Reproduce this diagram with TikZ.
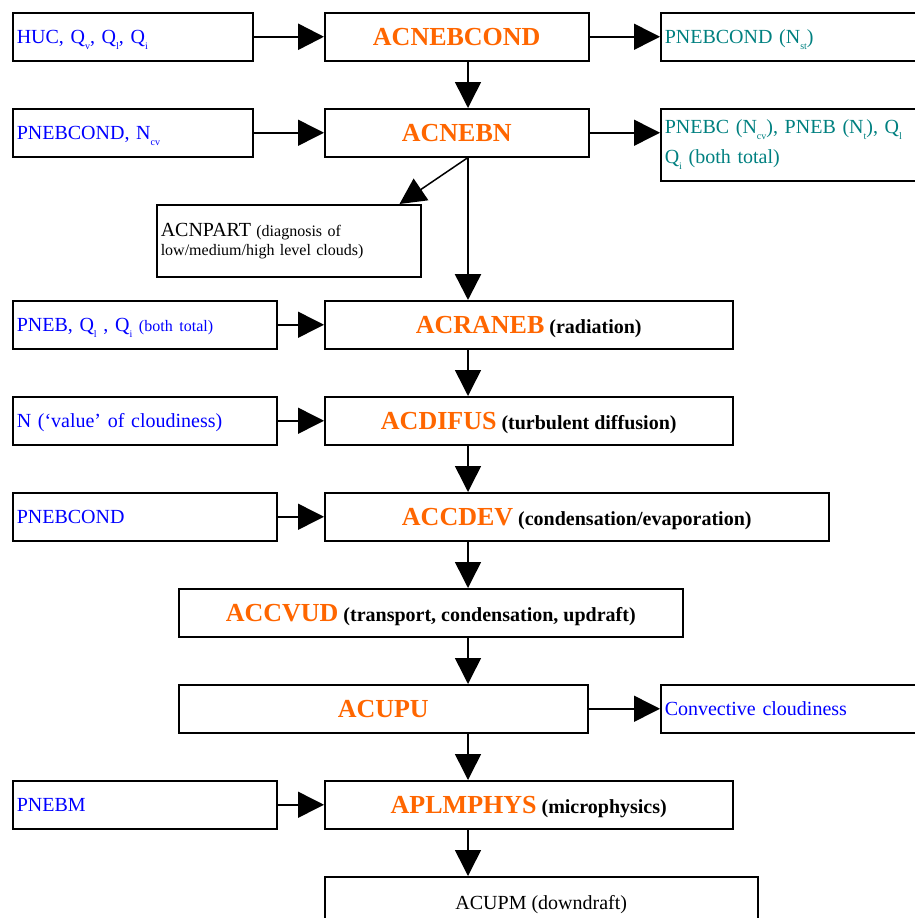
\documentclass[tikz,border=0pt]{standalone}
\usepackage{fontspec}
\setmainfont{Liberation Serif}
\usetikzlibrary{arrows.meta}
\definecolor{routineorange}{RGB}{255,102,0}
\definecolor{inblue}{RGB}{0,0,255}
\definecolor{outteal}{RGB}{0,128,128}
\newcommand{\lowsub}[1]{\raisebox{-6pt}{\fontsize{10}{10}\selectfont #1}}
\newcommand{\rname}[1]{{\color{routineorange}\fontsize{26}{30}\selectfont #1}}
\begin{document}
\begin{tikzpicture}[
x=1pt, y=-1pt,
box/.style={rectangle, draw=black, line width=1.5pt, anchor=north west, inner sep=4pt, align=left, font=\fontsize{20}{24}\selectfont},
input/.style={box, minimum height=48pt, text=inblue, text height=15pt, text depth=1pt},
output/.style={input, text=outteal},
routine/.style={box, minimum height=48pt, inner sep=0pt, align=center, font=\bfseries\fontsize{20}{24}\selectfont, text height=19pt, text depth=1pt},
note/.style={box, minimum height=72pt, font=\fontsize{16}{19}\selectfont},
flow/.style={-{Triangle[length=26pt, width=26pt]}, line width=1.5pt},
mainflow/.style={flow, line width=2.5pt},
]
\useasboundingbox (0,0) rectangle (914,918);
\coordinate (spine) at (468,0);
% first row
\node (huc) [input, text width=232pt] at (12,12) {HUC, Q\lowsub{v}, Q\lowsub{l}, Q\lowsub{i}};
\node (acnebcond) [routine, minimum width=264pt] at (324,12) {\rname{ACNEBCOND}};
\node (stout) [output, text width=332pt] at (660,12) {PNEBCOND (N\lowsub{st})};
% second row
\node (ncv) [input, text width=232pt] at (12,108) {PNEBCOND, N\lowsub{cv}};
\node (acnebn) [routine, minimum width=264pt] at (324,108) {\rname{ACNEBN}};
\node (totout) [box, minimum height=72pt, text=outteal, text width=332pt, font=\fontsize{20}{30}\selectfont] at (660,108)
	{PNEBC (N\lowsub{cv}), PNEB (N\lowsub{t}), Q\lowsub{l}\\ Q\lowsub{i} (both total)};
\node (acnpart) [note, text width=256pt] at (156,204)
	{{\fontsize{20}{24}\selectfont ACNPART} (diagnosis of\\ low/medium/high level clouds)};
% main chain
\node (pneb) [input, text width=256pt] at (12,300) {PNEB, Q\lowsub{l} , Q\lowsub{i} {\fontsize{16}{19}\selectfont (both total)}};
\node (acraneb) [routine, minimum width=408pt] at (324,300) {\rname{ACRANEB} (radiation)};
\node (nval) [input, text width=256pt] at (12,396) {N (`value' of cloudiness)};
\node (acdifus) [routine, minimum width=408pt] at (324,396) {\rname{ACDIFUS} (turbulent diffusion)};
\node (pnebcond) [input, text width=256pt] at (12,492) {PNEBCOND};
\node (accdev) [routine, minimum width=504pt] at (324,492) {\rname{ACCDEV} (condensation/evaporation)};
\node (accvud) [routine, minimum width=504pt] at (178,588) {\rname{ACCVUD} (transport, condensation, updraft)};
\node (acupu) [routine, minimum width=409pt] at (178,684) {\rname{ACUPU}};
\node (convout) [input, text width=332pt] at (660,684) {Convective cloudiness};
\node (pnebm) [input, text width=256pt] at (12,780) {PNEBM};
\node (aplmphys) [routine, minimum width=408pt] at (324,780) {\rname{APLMPHYS} (microphysics)};
\node (acupm) [routine, minimum width=433pt, font=\fontsize{20}{24}\selectfont] at (324,876) {ACUPM (downdraft)};
% side arrows
\draw[mainflow] (huc) -- (acnebcond);
\draw[flow] (acnebcond) -- (stout);
\draw[flow] (ncv) -- (acnebn);
\draw[flow] (acnebn.east) -- (acnebn.east -| totout.west);
\draw[flow] (pneb) -- (acraneb);
\draw[flow] (nval) -- (acdifus);
\draw[flow] (pnebcond) -- (accdev);
\draw[flow] (acupu) -- (convout);
\draw[flow] (pnebm) -- (aplmphys);
% arrows down the spine
\draw[flow] (acnebcond.south -| spine) -- (acnebn.north -| spine);
\draw[flow] (acnebn.south -| spine) -- ([xshift=-22pt]acnpart.north east);
\draw[mainflow] (acnebn.south -| spine) -- (acraneb.north -| spine);
\draw[flow] (acraneb.south -| spine) -- (acdifus.north -| spine);
\draw[flow] (acdifus.south -| spine) -- (accdev.north -| spine);
\draw[flow] (accdev.south -| spine) -- (accvud.north -| spine);
\draw[flow] (accvud.south -| spine) -- (acupu.north -| spine);
\draw[flow] (acupu.south -| spine) -- (aplmphys.north -| spine);
\draw[flow] (aplmphys.south -| spine) -- (acupm.north -| spine);
\end{tikzpicture}
\end{document}
